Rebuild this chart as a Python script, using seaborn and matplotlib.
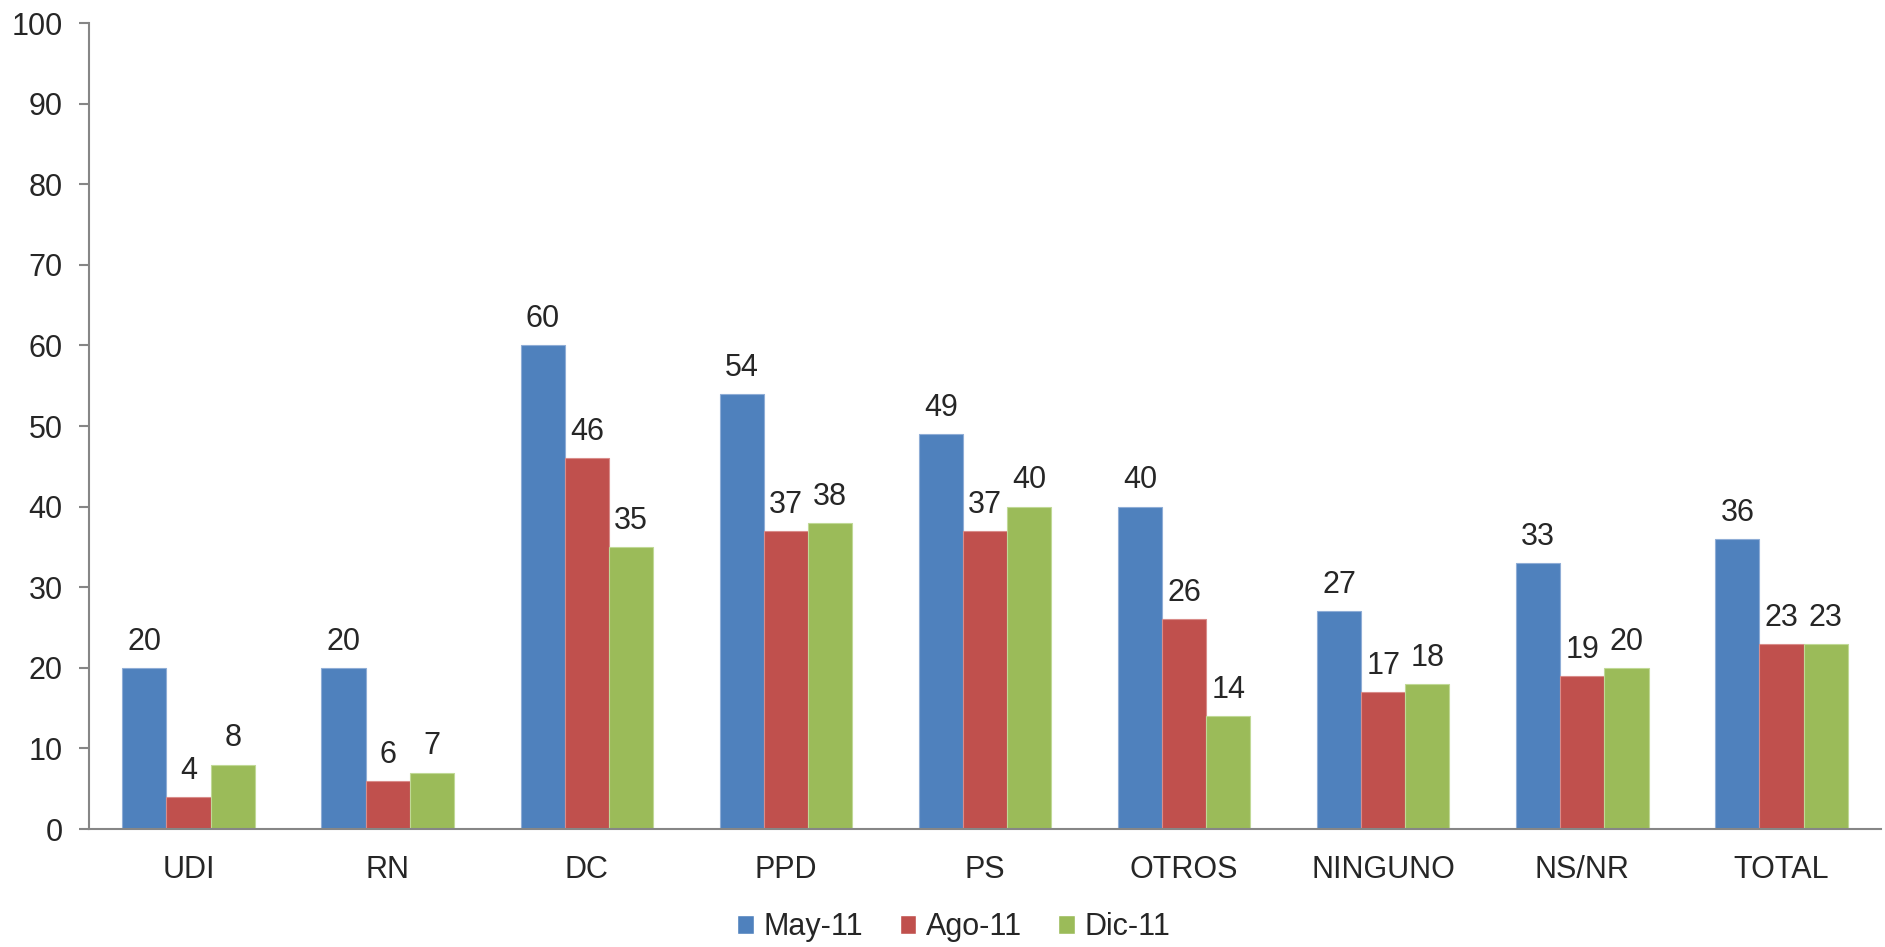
import pandas as pd
import numpy as np
import matplotlib
matplotlib.use('Agg')
import matplotlib.pyplot as plt
import seaborn as sns
from matplotlib.patches import Patch

# ---- data ---- #
partidos = ['UDI', 'RN', 'DC', 'PPD', 'PS', 'OTROS', 'NINGUNO', 'NS/NR', 'TOTAL']
periodos = ['May-11', 'Ago-11', 'Dic-11']
may11 = [20, 20, 60, 54, 49, 40, 27, 33, 36]
ago11 = [4, 6, 46, 37, 37, 26, 17, 19, 23]
dic11 = [8, 7, 35, 38, 40, 14, 18, 20, 23]
colores = ['#4F81BD', '#C0504D', '#9BBB59']
bordes = ['#8FADD6', '#D98C8A', '#C0D996']

df = pd.DataFrame({'partido': partidos * 3,
                   'periodo': [p for p in periodos for _ in partidos],
                   'valor': may11 + ago11 + dic11})

sns.set_style('white')
plt.rcParams['font.family'] = ['Liberation Sans', 'DejaVu Sans']
fs = 22

fig = plt.figure(figsize=(18.85, 9.47), dpi=100)
ax = fig.add_axes([0.0472, 0.1246, 0.9507, 0.8511])

sns.barplot(data=df, x='partido', y='valor', hue='periodo', order=partidos,
            hue_order=periodos, palette=colores, width=0.665, gap=0,
            saturation=1, linewidth=0, legend=False, ax=ax)

# thin lighter border like the original
for cont, b in zip(ax.containers, bordes):
    for bar in cont:
        bar.set_edgecolor(b)
        bar.set_linewidth(0.8)
    ax.bar_label(cont, fmt='%d', padding=8, fontsize=fs)

ax.set_ylim(0, 100)
ax.set_xlim(-0.5, len(partidos) - 0.5)
ax.set_yticks(np.arange(0, 101, 10))
ax.set_xlabel('')
ax.set_ylabel('')

gris = '#868686'
for s in ['top', 'right']:
    ax.spines[s].set_visible(False)
for s in ['left', 'bottom']:
    ax.spines[s].set_color(gris)
    ax.spines[s].set_linewidth(1.5)
    ax.spines[s].set_zorder(5)

ax.set_xticks(np.arange(-0.5, len(partidos)), minor=True)
ax.tick_params(axis='x', which='major', length=0, pad=19, labelsize=fs)
ax.tick_params(axis='x', which='minor', length=7, width=1.5, color=gris, direction='out')
ax.tick_params(axis='y', length=7, width=1.5, color=gris, direction='out', pad=12, labelsize=fs, left=True)

handles = [Patch(facecolor=c, label=p) for c, p in zip(colores, periodos)]
fig.legend(handles=handles, loc='center', bbox_to_anchor=(0.506, 0.021), ncol=3,
           frameon=False, fontsize=fs, handlelength=0.55, handleheight=0.55,
           handletextpad=0.3, columnspacing=1.2)

fig.savefig('out.png', dpi=100)
